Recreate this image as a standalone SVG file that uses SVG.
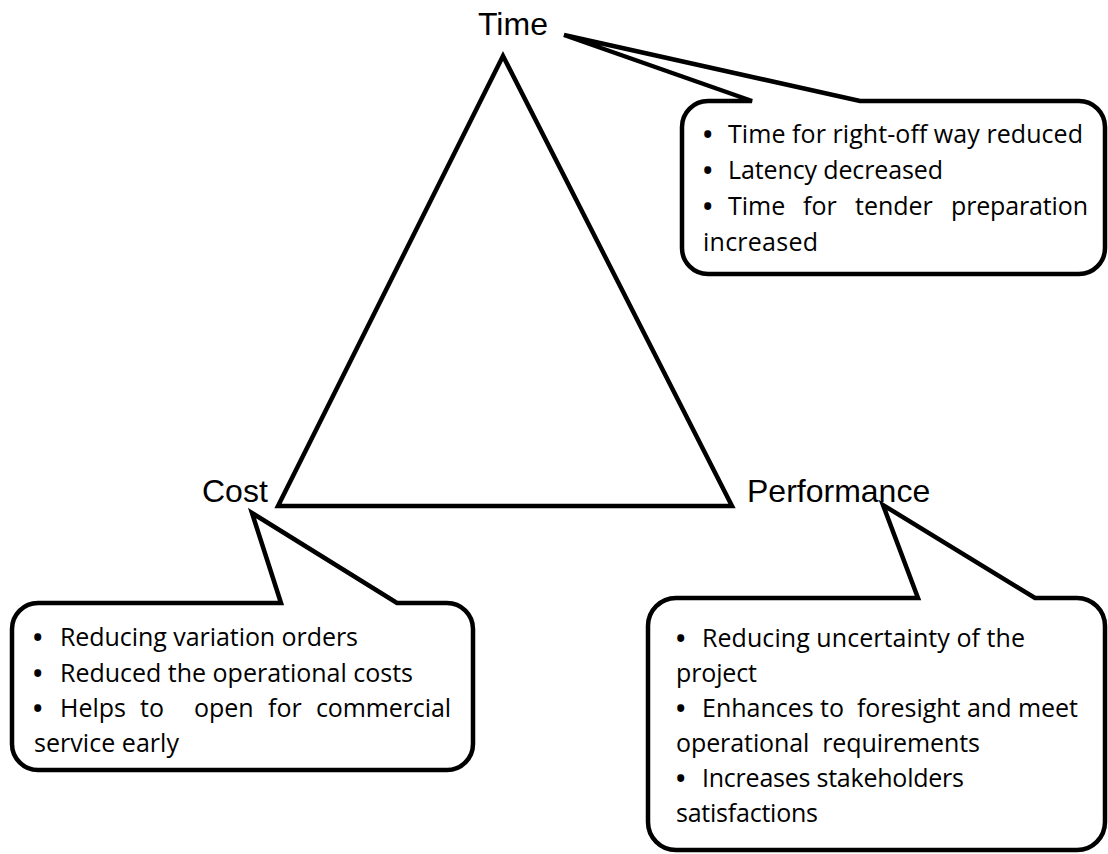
<svg xmlns="http://www.w3.org/2000/svg" width="1108" height="854" viewBox="0 0 1108 854" xml:space="preserve">
  <style>
    .edge { fill: none; stroke: #000; stroke-width: 4.5; stroke-linejoin: miter; }
    .callout { fill: #fff; stroke: #000; stroke-width: 4.5; stroke-linejoin: miter; }
    .label { font-family: "Liberation Sans", Arial, sans-serif; font-size: 32px; fill: #000; }
    .body { font-family: "Open Sans", "Noto Sans", sans-serif; font-size: 25px; fill: #000; white-space: pre; }
    .dot { font-weight: bold; }
  </style>
  <rect width="1108" height="854" fill="#fff"/>

  <!-- triangle linking the three constraints -->
  <g id="connectors">
    <polygon class="edge" points="503,56 278,506 732,506"/>
  </g>

  <!-- corner labels -->
  <g id="node-time">
    <text class="label" x="478" y="35">Time</text>
  </g>
  <g id="node-cost">
    <text class="label" x="202" y="502">Cost</text>
  </g>
  <g id="node-performance">
    <text class="label" x="747" y="502">Performance</text>
  </g>

  <!-- Time callout -->
  <g id="callout-time">
    <path class="callout" d="M752,101 L564,35 L860,101 H1079 A26,26 0 0 1 1105,127 V248 A26,26 0 0 1 1079,274 H708 A26,26 0 0 1 682,248 V127 A26,26 0 0 1 708,101 Z"/>
    <text class="body" y="143"><tspan class="dot" x="703">•</tspan><tspan x="728" textLength="355" lengthAdjust="spacing">Time for right-off way reduced</tspan></text>
    <text class="body" y="179"><tspan class="dot" x="703">•</tspan><tspan x="728" textLength="215" lengthAdjust="spacing">Latency decreased</tspan></text>
    <text class="body" y="215"><tspan class="dot" x="703">•</tspan><tspan x="728">Time</tspan><tspan x="803">for</tspan><tspan x="855">tender</tspan><tspan x="951" textLength="137" lengthAdjust="spacing">preparation</tspan></text>
    <text class="body" x="703" y="251" textLength="115" lengthAdjust="spacing">increased</text>
  </g>

  <!-- Cost callout -->
  <g id="callout-cost">
    <path class="callout" d="M281,603 L252,513 L397,603 H447 A26,26 0 0 1 473,629 V744 A26,26 0 0 1 447,770 H38 A26,26 0 0 1 12,744 V629 A26,26 0 0 1 38,603 Z"/>
    <text class="body" y="646"><tspan class="dot" x="33">•</tspan><tspan x="60" textLength="298" lengthAdjust="spacing">Reducing variation orders</tspan></text>
    <text class="body" y="682"><tspan class="dot" x="33">•</tspan><tspan x="60" textLength="353" lengthAdjust="spacing">Reduced the operational costs</tspan></text>
    <text class="body" y="717"><tspan class="dot" x="33">•</tspan><tspan x="60">Helps</tspan><tspan x="140">to</tspan><tspan x="194">open</tspan><tspan x="268">for</tspan><tspan x="316" textLength="135" lengthAdjust="spacing">commercial</tspan></text>
    <text class="body" x="34" y="752" textLength="145" lengthAdjust="spacing">service early</text>
  </g>

  <!-- Performance callout -->
  <g id="callout-performance">
    <path class="callout" d="M918,598 L883,505 L1035,598 H1077 A28,28 0 0 1 1105,626 V822 A28,28 0 0 1 1077,850 H676 A28,28 0 0 1 648,822 V626 A28,28 0 0 1 676,598 Z"/>
    <text class="body" y="647"><tspan class="dot" x="676">•</tspan><tspan x="702" textLength="323" lengthAdjust="spacing">Reducing uncertainty of the</tspan></text>
    <text class="body" x="676" y="682" textLength="81" lengthAdjust="spacing">project</text>
    <text class="body" y="717"><tspan class="dot" x="676">•</tspan><tspan x="702" textLength="376" lengthAdjust="spacing">Enhances to  foresight and meet</tspan></text>
    <text class="body" x="676" y="752" textLength="304" lengthAdjust="spacing">operational  requirements</text>
    <text class="body" y="787"><tspan class="dot" x="676">•</tspan><tspan x="702" textLength="262" lengthAdjust="spacing">Increases stakeholders</tspan></text>
    <text class="body" x="676" y="822" textLength="142" lengthAdjust="spacing">satisfactions</text>
  </g>
</svg>
